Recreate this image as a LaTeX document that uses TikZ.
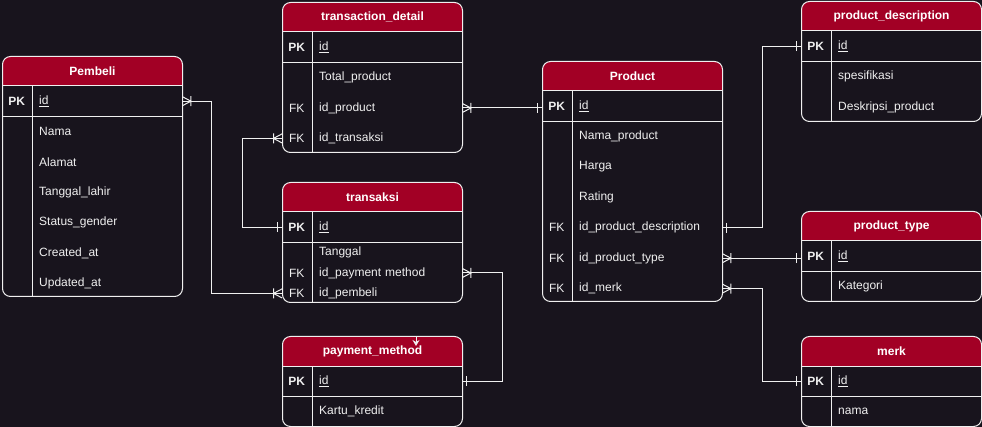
\documentclass[tikz,border=0pt]{standalone}
\usepackage{fontspec}
\setmainfont{Liberation Sans}
\usetikzlibrary{positioning,arrows.meta}

\definecolor{bgc}{HTML}{18141D}
\definecolor{hdc}{HTML}{A20025}
\definecolor{lnc}{HTML}{F0F0F0}

% crow's foot ends
\pgfdeclarearrow{
  name = one,
  setup code = {\pgfarrowssettipend{0pt}\pgfarrowssetlineend{0pt}\pgfarrowssetbackend{-6pt}},
  drawing code = {
    \pgfpathmoveto{\pgfqpoint{-4.5pt}{-5pt}}\pgfpathlineto{\pgfqpoint{-4.5pt}{5pt}}
    \pgfusepathqstroke}
}
\pgfdeclarearrow{
  name = many,
  setup code = {\pgfarrowssettipend{0pt}\pgfarrowssetlineend{0pt}\pgfarrowssetbackend{-10pt}},
  drawing code = {
    \pgfpathmoveto{\pgfqpoint{0pt}{4.5pt}}\pgfpathlineto{\pgfqpoint{-8.5pt}{0pt}}
    \pgfpathlineto{\pgfqpoint{0pt}{-4.5pt}}
    \pgfpathmoveto{\pgfqpoint{-8.5pt}{-5pt}}\pgfpathlineto{\pgfqpoint{-8.5pt}{5pt}}
    \pgfusepathqstroke}
}
\def\pk{\underline{id}}

\begin{document}
\begin{tikzpicture}[x=1pt,y=-1pt,font=\fontsize{12}{14}\selectfont,
  tbl/.style={draw=lnc,line width=1pt,fill=bgc,rounded corners=8pt,minimum width=180pt,
    inner sep=0pt,anchor=north west,
    path picture={\fill[hdc,sharp corners] (path picture bounding box.north west)
      rectangle ([yshift=-30pt]path picture bounding box.north east);}},
  ttl/.style={text=white,font=\fontsize{12}{14}\selectfont\bfseries},
  fld/.style={text=lnc,text width=143pt,minimum height=30pt,inner sep=0pt,align=left},
  key/.style={text=lnc,minimum width=30pt,minimum height=30pt,inner sep=0pt},
  ln/.style={draw=lnc,line width=1pt},
  con/.style={draw=lnc,line width=1pt}]%<<<
\useasboundingbox (0,0) rectangle (982,427);
\fill[bgc] (0,0) rectangle (982,427);

% Pembeli
\node[tbl,minimum height=240pt] (pb) at (2,56) {};
\node[ttl] (pb-t) at ([yshift=-15pt]pb.north) {Pembeli};
\node[fld,anchor=north west] (pb-id) at ([xshift=37pt,yshift=-30pt]pb.north west) {\pk};
\node[fld,below=0pt of pb-id] (pb-nama) {Nama};
\node[fld,below=0pt of pb-nama] (pb-alamat) {Alamat};
\node[fld,below=0pt of pb-alamat] (pb-tgl) {Tanggal\_lahir};
\node[fld,below=0pt of pb-tgl] (pb-sts) {Status\_gender};
\node[fld,below=0pt of pb-sts] (pb-crt) {Created\_at};
\node[fld,below=0pt of pb-crt] (pb-upd) {Updated\_at};
\node[key,left=7pt of pb-id,font=\fontsize{12}{14}\selectfont\bfseries] (pb-pk) {PK};
\draw[ln] (pb-id.north -| pb.west) -- (pb-id.north -| pb.east);
\draw[ln] (pb-id.south -| pb.west) -- (pb-id.south -| pb.east);
\draw[ln] (pb-pk.north east) -- (pb-pk.north east |- pb.south);

% transaction_detail
\node[tbl,minimum height=150pt] (td) at (282,2) {};
\node[ttl] (td-t) at ([yshift=-15pt]td.north) {transaction\_detail};
\node[fld,anchor=north west] (td-id) at ([xshift=37pt,yshift=-30pt]td.north west) {\pk};
\node[fld,below=0pt of td-id] (td-tot) {Total\_product};
\node[fld,below=0pt of td-tot] (td-prd) {id\_product};
\node[fld,below=0pt of td-prd] (td-trx) {id\_transaksi};
\node[key,left=7pt of td-id,font=\fontsize{12}{14}\selectfont\bfseries] (td-pk) {PK};
\node[key,left=7pt of td-prd] (td-fk1) {FK};
\node[key,left=7pt of td-trx] (td-fk2) {FK};
\draw[ln] (td-id.north -| td.west) -- (td-id.north -| td.east);
\draw[ln] (td-id.south -| td.west) -- (td-id.south -| td.east);
\draw[ln] (td-pk.north east) -- (td-pk.north east |- td.south);

% transaksi
\node[tbl,minimum height=120pt] (tk) at (282,182) {};
\node[ttl] (tk-t) at ([yshift=-15pt]tk.north) {transaksi};
\node[fld,anchor=north west] (tk-id) at ([xshift=37pt,yshift=-30pt]tk.north west) {\pk};
\node[fld,minimum height=20pt,below=0pt of tk-id] (tk-tgl) {Tanggal};
\node[fld,minimum height=20pt,below=0pt of tk-tgl] (tk-pay) {id\_payment method};
\node[fld,minimum height=20pt,below=0pt of tk-pay] (tk-pb) {id\_pembeli};
\node[key,left=7pt of tk-id,font=\fontsize{12}{14}\selectfont\bfseries] (tk-pk) {PK};
\node[key,minimum height=20pt,left=7pt of tk-pay] (tk-fk1) {FK};
\node[key,minimum height=20pt,left=7pt of tk-pb] (tk-fk2) {FK};
\draw[ln] (tk-id.north -| tk.west) -- (tk-id.north -| tk.east);
\draw[ln] (tk-id.south -| tk.west) -- (tk-id.south -| tk.east);
\draw[ln] (tk-pk.north east) -- (tk-pk.north east |- tk.south);

% payment_method
\node[tbl,minimum height=90pt] (pm) at (282,336) {};
\node[ttl] (pm-t) at ([yshift=-15pt]pm.north) {payment\_method};
\node[fld,anchor=north west] (pm-id) at ([xshift=37pt,yshift=-30pt]pm.north west) {\pk};
\node[fld,below=0pt of pm-id] (pm-kk) {Kartu\_kredit};
\node[key,left=7pt of pm-id,font=\fontsize{12}{14}\selectfont\bfseries] (pm-pk) {PK};
\draw[ln] (pm-id.north -| pm.west) -- (pm-id.north -| pm.east);
\draw[ln] (pm-id.south -| pm.west) -- (pm-id.south -| pm.east);
\draw[ln] (pm-pk.north east) -- (pm-pk.north east |- pm.south);

% Product
\node[tbl,minimum height=240pt] (pr) at (542,61) {};
\node[ttl] (pr-t) at ([yshift=-15pt]pr.north) {Product};
\node[fld,anchor=north west] (pr-id) at ([xshift=37pt,yshift=-30pt]pr.north west) {\pk};
\node[fld,below=0pt of pr-id] (pr-nama) {Nama\_product};
\node[fld,below=0pt of pr-nama] (pr-hrg) {Harga};
\node[fld,below=0pt of pr-hrg] (pr-rtg) {Rating};
\node[fld,below=0pt of pr-rtg] (pr-desc) {id\_product\_description};
\node[fld,below=0pt of pr-desc] (pr-type) {id\_product\_type};
\node[fld,below=0pt of pr-type] (pr-merk) {id\_merk};
\node[key,left=7pt of pr-id,font=\fontsize{12}{14}\selectfont\bfseries] (pr-pk) {PK};
\node[key,left=7pt of pr-desc] (pr-fk1) {FK};
\node[key,left=7pt of pr-type] (pr-fk2) {FK};
\node[key,left=7pt of pr-merk] (pr-fk3) {FK};
\draw[ln] (pr-id.north -| pr.west) -- (pr-id.north -| pr.east);
\draw[ln] (pr-id.south -| pr.west) -- (pr-id.south -| pr.east);
\draw[ln] (pr-pk.north east) -- (pr-pk.north east |- pr.south);

% product_description
\node[tbl,minimum height=120pt] (pd) at (801,1) {};
\node[ttl] (pd-t) at ([yshift=-15pt]pd.north) {product\_description};
\node[fld,anchor=north west] (pd-id) at ([xshift=37pt,yshift=-30pt]pd.north west) {\pk};
\node[fld,below=0pt of pd-id] (pd-spec) {spesifikasi};
\node[fld,below=0pt of pd-spec] (pd-desk) {Deskripsi\_product};
\node[key,left=7pt of pd-id,font=\fontsize{12}{14}\selectfont\bfseries] (pd-pk) {PK};
\draw[ln] (pd-id.north -| pd.west) -- (pd-id.north -| pd.east);
\draw[ln] (pd-id.south -| pd.west) -- (pd-id.south -| pd.east);
\draw[ln] (pd-pk.north east) -- (pd-pk.north east |- pd.south);

% product_type
\node[tbl,minimum height=90pt] (pt) at (801,211) {};
\node[ttl] (pt-t) at ([yshift=-15pt]pt.north) {product\_type};
\node[fld,anchor=north west] (pt-id) at ([xshift=37pt,yshift=-30pt]pt.north west) {\pk};
\node[fld,below=0pt of pt-id] (pt-kat) {Kategori};
\node[key,left=7pt of pt-id,font=\fontsize{12}{14}\selectfont\bfseries] (pt-pk) {PK};
\draw[ln] (pt-id.north -| pt.west) -- (pt-id.north -| pt.east);
\draw[ln] (pt-id.south -| pt.west) -- (pt-id.south -| pt.east);
\draw[ln] (pt-pk.north east) -- (pt-pk.north east |- pt.south);

% merk
\node[tbl,minimum height=90pt] (mk) at (801,336) {};
\node[ttl] (mk-t) at ([yshift=-15pt]mk.north) {merk};
\node[fld,anchor=north west] (mk-id) at ([xshift=37pt,yshift=-30pt]mk.north west) {\pk};
\node[fld,below=0pt of mk-id] (mk-nama) {nama};
\node[key,left=7pt of mk-id,font=\fontsize{12}{14}\selectfont\bfseries] (mk-pk) {PK};
\draw[ln] (mk-id.north -| mk.west) -- (mk-id.north -| mk.east);
\draw[ln] (mk-id.south -| mk.west) -- (mk-id.south -| mk.east);
\draw[ln] (mk-pk.north east) -- (mk-pk.north east |- mk.south);

% relations
\draw[con,{many}-{many}] (pb-id.east) -- ++(29,0) |- (tk-pb -| tk.west);
\draw[con,{many}-{one}] (td-trx -| td.west) -- ++(-40,0) |- (tk-id -| tk.west);
\draw[con,{many}-{one}] (td-prd.east) -- (td-prd.east -| pr.west);
\draw[con,{many}-{one}] (tk-pay.east) -- ++(40,0) |- (pm-id.east);
\draw[con,{one}-{one}] (pr-desc.east) -- ++(40,0) |- (pd-id -| pd.west);
\draw[con,{many}-{one}] (pr-type.east) -- (pr-type.east -| pt.west);
\draw[con,{many}-{one}] (pr-merk.east) -- ++(40,0) |- (mk-id -| mk.west);
\coordinate (stray) at (416,337);
\draw[con,-{Stealth[length=6pt,width=7pt]}] (stray) -- ++(0,9);
\end{tikzpicture}
\end{document}
